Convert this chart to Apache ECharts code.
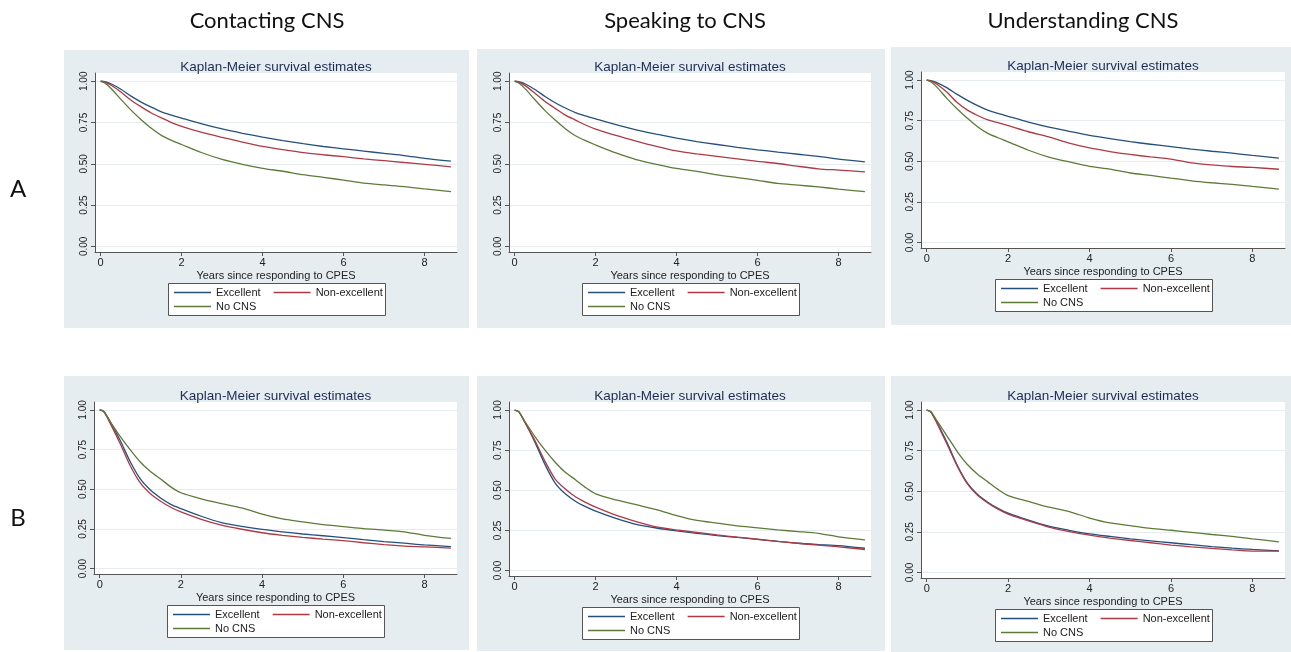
<!DOCTYPE html>
<html>
<head>
<meta charset="utf-8">
<script src="https://cdn.jsdelivr.net/npm/echarts@6/dist/echarts.min.js"></script>
<style>
html,body{margin:0;padding:0;background:#fff;}
#chart{width:1291px;height:652px;}
</style>
</head>
<body>
<div id="chart"></div>
<script>
// ---------------- DATA ----------------
const headers = ['Contacting CNS', 'Speaking to CNS', 'Understanding CNS'];
const rowLabels = ['A', 'B'];
const groupNames = ['Excellent', 'Non-excellent', 'No CNS'];
const panelTitle = 'Kaplan-Meier survival estimates';
const xAxisTitle = 'Years since responding to CPES';
const xTicks = [0, 2, 4, 6, 8];
const yTicks = [0, 0.25, 0.5, 0.75, 1];

const years = [0, 0.1, 0.25, 0.5, 0.75, 1, 1.25, 1.5, 1.75, 2, 2.5, 3, 3.5, 4, 4.5, 5, 5.5, 6, 6.5, 7, 7.5, 8, 8.65];

// Row A
const aContactExcellent = [1, 0.997, 0.985, 0.952, 0.91, 0.874, 0.843, 0.815, 0.795, 0.777, 0.742, 0.711, 0.685, 0.662, 0.641, 0.622, 0.605, 0.591, 0.577, 0.563, 0.55, 0.533, 0.516];
const aContactNonExcellent = [1, 0.995, 0.977, 0.935, 0.885, 0.845, 0.808, 0.778, 0.75, 0.727, 0.69, 0.66, 0.632, 0.606, 0.586, 0.568, 0.555, 0.543, 0.53, 0.519, 0.508, 0.497, 0.482];
const aContactNoCns = [1, 0.99, 0.958, 0.89, 0.825, 0.767, 0.715, 0.672, 0.642, 0.617, 0.567, 0.527, 0.497, 0.473, 0.455, 0.434, 0.418, 0.401, 0.383, 0.372, 0.362, 0.348, 0.331];

const aSpeakExcellent = [1, 0.997, 0.985, 0.95, 0.908, 0.87, 0.838, 0.81, 0.79, 0.772, 0.737, 0.706, 0.68, 0.656, 0.635, 0.617, 0.6, 0.585, 0.571, 0.558, 0.545, 0.528, 0.512];
const aSpeakNonExcellent = [1, 0.995, 0.975, 0.928, 0.878, 0.836, 0.795, 0.765, 0.735, 0.71, 0.672, 0.638, 0.606, 0.578, 0.56, 0.545, 0.53, 0.515, 0.502, 0.485, 0.47, 0.462, 0.451];
const aSpeakNoCns = [1, 0.99, 0.957, 0.888, 0.822, 0.765, 0.713, 0.67, 0.64, 0.614, 0.566, 0.526, 0.497, 0.472, 0.454, 0.433, 0.417, 0.4, 0.381, 0.371, 0.36, 0.347, 0.331];

const aUnderstandExcellent = [1, 0.997, 0.985, 0.952, 0.912, 0.875, 0.843, 0.815, 0.795, 0.777, 0.742, 0.711, 0.685, 0.66, 0.64, 0.621, 0.605, 0.59, 0.575, 0.562, 0.55, 0.536, 0.52];
const aUnderstandNonExcellent = [1, 0.995, 0.975, 0.925, 0.862, 0.815, 0.782, 0.755, 0.738, 0.72, 0.682, 0.65, 0.612, 0.582, 0.56, 0.542, 0.527, 0.514, 0.49, 0.478, 0.468, 0.462, 0.451];
const aUnderstandNoCns = [1, 0.99, 0.957, 0.886, 0.822, 0.765, 0.713, 0.672, 0.645, 0.62, 0.568, 0.526, 0.496, 0.469, 0.452, 0.428, 0.413, 0.396, 0.38, 0.368, 0.358, 0.345, 0.329];

// Row B
const bContactExcellent = [1, 0.99, 0.93, 0.81, 0.675, 0.565, 0.495, 0.445, 0.405, 0.378, 0.33, 0.29, 0.266, 0.247, 0.232, 0.218, 0.207, 0.195, 0.182, 0.17, 0.16, 0.149, 0.139];
const bContactNonExcellent = [1, 0.99, 0.92, 0.79, 0.65, 0.54, 0.472, 0.425, 0.387, 0.357, 0.311, 0.274, 0.248, 0.226, 0.21, 0.197, 0.186, 0.176, 0.163, 0.151, 0.142, 0.137, 0.129];
const bContactNoCns = [1, 0.99, 0.93, 0.835, 0.75, 0.672, 0.612, 0.565, 0.515, 0.478, 0.44, 0.41, 0.382, 0.343, 0.313, 0.295, 0.277, 0.265, 0.252, 0.243, 0.232, 0.21, 0.19];

const bSpeakExcellent = [1, 0.99, 0.925, 0.8, 0.66, 0.545, 0.478, 0.432, 0.398, 0.37, 0.325, 0.288, 0.265, 0.247, 0.232, 0.218, 0.206, 0.194, 0.182, 0.17, 0.162, 0.155, 0.139];
const bSpeakNonExcellent = [1, 0.99, 0.925, 0.81, 0.68, 0.57, 0.508, 0.46, 0.425, 0.395, 0.345, 0.305, 0.272, 0.253, 0.237, 0.222, 0.208, 0.195, 0.182, 0.17, 0.158, 0.148, 0.131];
const bSpeakNoCns = [1, 0.99, 0.93, 0.835, 0.75, 0.675, 0.612, 0.566, 0.517, 0.478, 0.44, 0.41, 0.38, 0.342, 0.312, 0.295, 0.278, 0.266, 0.253, 0.243, 0.232, 0.21, 0.191];

const bUnderstandExcellent = [1, 0.99, 0.925, 0.8, 0.66, 0.55, 0.48, 0.433, 0.395, 0.365, 0.322, 0.285, 0.26, 0.238, 0.222, 0.207, 0.195, 0.183, 0.171, 0.159, 0.15, 0.142, 0.133];
const bUnderstandNonExcellent = [1, 0.99, 0.92, 0.79, 0.655, 0.545, 0.475, 0.428, 0.39, 0.36, 0.318, 0.28, 0.252, 0.23, 0.212, 0.197, 0.183, 0.169, 0.158, 0.148, 0.139, 0.132, 0.132];
const bUnderstandNoCns = [1, 0.99, 0.935, 0.84, 0.745, 0.665, 0.605, 0.558, 0.512, 0.474, 0.438, 0.402, 0.375, 0.335, 0.305, 0.289, 0.272, 0.26, 0.247, 0.234, 0.222, 0.207, 0.189];

const panelData = [
  [aContactExcellent, aContactNonExcellent, aContactNoCns],
  [aSpeakExcellent, aSpeakNonExcellent, aSpeakNoCns],
  [aUnderstandExcellent, aUnderstandNonExcellent, aUnderstandNoCns],
  [bContactExcellent, bContactNonExcellent, bContactNoCns],
  [bSpeakExcellent, bSpeakNonExcellent, bSpeakNoCns],
  [bUnderstandExcellent, bUnderstandNonExcellent, bUnderstandNoCns]
];

// ---------------- LAYOUT / STYLE ----------------
const colors = ['#24507d', '#ad3a45', '#5c7b36'];
const panelBg = '#e6edf1';
const font = '"Liberation Sans", Arial, sans-serif';
const headFont = 'Lato, "Open Sans", sans-serif';

const boxes = [
  [64, 50, 405, 278], [477, 49, 408, 279], [891, 47, 400, 278],
  [64, 376, 405, 274], [477, 376, 408, 275], [891, 376, 400, 276]
];
const grids = [
  {left: 95, top: 73, width: 362, height: 179},
  {left: 509, top: 73, width: 362, height: 179},
  {left: 921, top: 72, width: 364, height: 176},
  {left: 94, top: 402, width: 363, height: 172},
  {left: 509, top: 402, width: 362, height: 174},
  {left: 921, top: 402, width: 364, height: 176}
];
const headerX = [267, 685, 1083];
const headerY = 21;
const rowLabelPos = [[18, 189], [18, 518]];
const xRange = [-0.14, 8.8];
const yRange = [-0.034, 1.05];

const graphic = [];
const gridOpts = [], xAxes = [], yAxes = [], series = [], legends = [];

boxes.forEach(b => graphic.push({
  type: 'rect', z: -10, silent: true,
  shape: {x: b[0], y: b[1], width: b[2], height: b[3]},
  style: {fill: panelBg}
}));

headers.forEach((h, i) => graphic.push({
  type: 'text', silent: true,
  style: {text: h, x: headerX[i], y: headerY, textAlign: 'center', textVerticalAlign: 'middle',
          font: '22px ' + headFont, fill: '#111'}
}));
rowLabels.forEach((r, i) => graphic.push({
  type: 'text', silent: true,
  style: {text: r, x: rowLabelPos[i][0], y: rowLabelPos[i][1], textAlign: 'center', textVerticalAlign: 'middle',
          font: '24px ' + headFont, fill: '#111'}
}));

grids.forEach((g, i) => {
  const cx = g.left + g.width / 2;
  const bottom = g.top + g.height;
  gridOpts.push({left: g.left, top: g.top, width: g.width, height: g.height,
                 show: true, backgroundColor: '#ffffff', borderWidth: 0, containLabel: false});
  graphic.push({
    type: 'text', silent: true,
    style: {text: panelTitle, x: cx, y: g.top - 6, textAlign: 'center', textVerticalAlign: 'middle',
            font: '13.5px ' + font, fill: '#1c2d55'}
  });
  const lbx = Math.round(cx - 108.5), lby = bottom + 31;
  graphic.push({
    type: 'rect', z: -5, silent: true,
    shape: {x: lbx + 0.5, y: lby + 0.5, width: 217, height: 32},
    style: {fill: '#ffffff', stroke: '#555', lineWidth: 1}
  });
  const legCommon = {
    orient: 'horizontal', padding: 0, itemWidth: 37, itemHeight: 12, itemGap: 13,
    selectedMode: false, icon: 'path://M0,5 L37,5 L37,6.3 L0,6.3 Z',
    textStyle: {fontSize: 11, fontFamily: font, color: '#222', padding: [0, 0, 0, 0]}
  };
  legends.push(Object.assign({}, legCommon, {left: lbx + 6, top: lby + 4, data: [groupNames[0], groupNames[1]]}));
  legends.push(Object.assign({}, legCommon, {left: lbx + 6, top: lby + 18, data: [groupNames[2]]}));

  xAxes.push({
    type: 'value', gridIndex: i, min: xRange[0], max: xRange[1],
    axisLine: {show: true, onZero: false, lineStyle: {color: '#555', width: 1}},
    axisTick: {show: true, customValues: xTicks, length: 4, lineStyle: {color: '#555'}},
    axisLabel: {customValues: xTicks, fontSize: 11, fontFamily: font, color: '#222', margin: 5},
    splitLine: {show: false},
    name: xAxisTitle, nameLocation: 'middle', nameGap: 18,
    nameTextStyle: {fontSize: 11, fontFamily: font, color: '#222'}
  });
  yAxes.push({
    type: 'value', gridIndex: i, min: yRange[0], max: yRange[1],
    axisLine: {show: true, onZero: false, lineStyle: {color: '#555', width: 1}},
    axisTick: {show: true, customValues: yTicks, length: 4, lineStyle: {color: '#555'}},
    axisLabel: {customValues: yTicks, rotate: 90, fontSize: 10, fontFamily: font, color: '#222', margin: 6,
                formatter: v => Number(v).toFixed(2)},
    splitLine: {show: true, lineStyle: {color: '#e6ecf0', width: 1}}
  });

  panelData[i].forEach((arr, gi) => {
    series.push({
      type: 'line', name: groupNames[gi], xAxisIndex: i, yAxisIndex: i, z: 3,
      data: years.map((t, k) => [t, arr[k]]),
      symbol: 'none', showSymbol: false, smooth: 0.25,
      lineStyle: {color: colors[gi], width: 1.3},
      itemStyle: {color: colors[gi]},
      emphasis: {disabled: true}
    });
  });
});

const chart = echarts.init(document.getElementById('chart'), null, {renderer: 'canvas'});
chart.setOption({
  animation: false,
  backgroundColor: '#ffffff',
  grid: gridOpts,
  xAxis: xAxes,
  yAxis: yAxes,
  legend: legends,
  graphic: graphic,
  series: series
});
</script>
</body>
</html>
